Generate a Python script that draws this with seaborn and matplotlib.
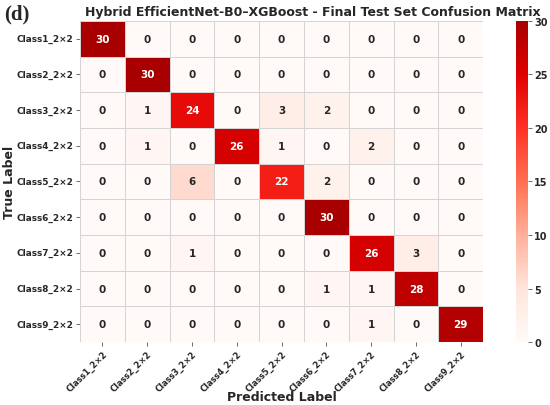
import matplotlib
matplotlib.use("Agg")
import matplotlib.pyplot as plt
from matplotlib.colors import LinearSegmentedColormap
import seaborn as sns
import numpy as np
import pandas as pd

sns.set_style("white")
plt.rcParams['font.family'] = ['DejaVu Sans']

class_labels = [f"Class{i}_2\u00d72" for i in range(1, 10)]
cm_rows = [
    [30, 0, 0, 0, 0, 0, 0, 0, 0],
    [0, 30, 0, 0, 0, 0, 0, 0, 0],
    [0, 1, 24, 0, 3, 2, 0, 0, 0],
    [0, 1, 0, 26, 1, 0, 2, 0, 0],
    [0, 0, 6, 0, 22, 2, 0, 0, 0],
    [0, 0, 0, 0, 0, 30, 0, 0, 0],
    [0, 0, 1, 0, 0, 0, 26, 3, 0],
    [0, 0, 0, 0, 0, 1, 1, 28, 0],
    [0, 0, 0, 0, 0, 0, 1, 0, 29],
]
cm = pd.DataFrame(cm_rows, index=class_labels, columns=class_labels)

# bright red map, close to the reference colorbar
red_cmap = LinearSegmentedColormap.from_list(
    'bright_reds',
    ['#fffaf8', '#ffe5db', '#ffb09a', '#ff7050', '#ff3326', '#e00000', '#a80000'])

fig = plt.figure(figsize=(5.5, 4.06), dpi=100)
ax = fig.add_axes([0.1455, 0.155, 0.733, 0.791])
cax = fig.add_axes([0.938, 0.155, 0.022, 0.791])

sns.heatmap(cm, annot=True, fmt='d', cmap=red_cmap, vmin=0, vmax=30,
            linewidths=0.6, linecolor='#d4d4d4', ax=ax, cbar_ax=cax,
            annot_kws={'fontsize': 7.5, 'fontweight': 'bold'})

fig.text(0.569, 0.97, 'Hybrid EfficientNet-B0\u2013XGBoost - Final Test Set Confusion Matrix',
         fontsize=9, fontweight='bold', ha='center', va='center')
ax.set_xlabel('Predicted Label', fontsize=9, fontweight='bold')
ax.set_ylabel('True Label', fontsize=9, fontweight='bold')
ax.xaxis.set_label_coords(0.5, -0.148)
ax.yaxis.set_label_coords(-0.158, 0.5)
ax.tick_params(axis='both', length=3, width=0.6, color='#555555', pad=2,
               left=True, bottom=True)
ax.tick_params(axis='x', labelsize=6.0)
ax.tick_params(axis='y', labelsize=6.4)
plt.setp(ax.get_xticklabels(), rotation=45, ha='right', rotation_mode='anchor', fontweight='bold')
plt.setp(ax.get_yticklabels(), rotation=0, fontweight='bold')

cax.tick_params(labelsize=7, length=3, width=0.6, color='#555555', pad=1.5)
for t in cax.get_yticklabels():
    t.set_fontweight('bold')
cax.spines[:].set_visible(False)

fig.text(0.008, 0.965, '(d)', fontsize=15, fontweight='bold',
         family=['Liberation Serif', 'DejaVu Serif'], va='center')

fig.savefig('out.png', dpi=100)
